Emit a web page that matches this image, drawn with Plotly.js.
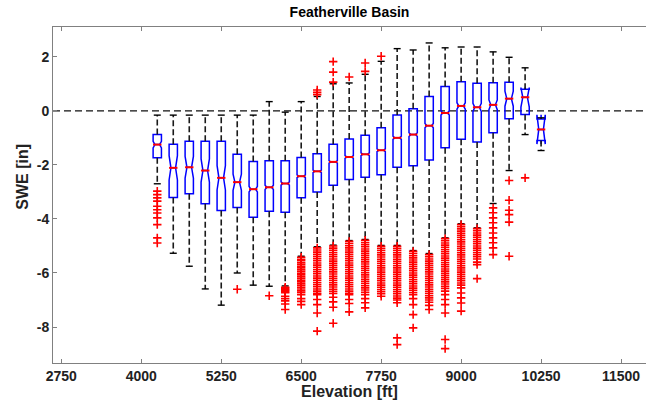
<!DOCTYPE html>
<html><head><meta charset="utf-8">
<script src="https://cdn.plot.ly/plotly-3.0.1.min.js"></script>
<style>html,body{margin:0;padding:0;background:#fff}#chart{width:646px;height:400px}</style>
</head><body><div id="chart"></div>
<script>
const elevation = [4250,4500,4750,5000,5250,5500,5750,6000,6250,6500,6750,7000,7250,7500,7750,8000,8250,8500,8750,9000,9250,9500,9750,10000,10250];
const q3      = [-0.88,-1.24,-1.13,-1.13,-1.13,-1.61,-1.88,-1.85,-1.85,-1.73,-1.59,-1.24,-1.04,-0.90,-0.63,-0.16,0.08,0.53,0.90,1.07,1.02,1.04,1.06,0.80,-0.30];
const median  = [-1.25,-2.11,-2.09,-2.21,-2.48,-2.64,-2.90,-2.83,-2.69,-2.42,-2.24,-1.89,-1.71,-1.61,-1.46,-1.00,-0.88,-0.55,-0.08,0.18,0.13,0.22,0.45,0.50,-0.69];
const q1      = [-1.74,-3.21,-3.07,-3.44,-3.69,-3.58,-3.94,-3.72,-3.75,-3.22,-3.00,-2.75,-2.54,-2.46,-2.37,-2.09,-2.03,-1.82,-1.37,-1.05,-1.15,-0.81,-0.29,-0.14,-1.10];
const notchHalf = [0.12,0.45,0.40,0.43,0.45,0.30,0.10,0.08,0.06,0.05,0.05,0.05,0.05,0.05,0.05,0.06,0.07,0.08,0.08,0.12,0.15,0.18,0.28,0.36,0.54];
const whiskerLow  = [-2.70,-5.27,-5.75,-6.59,-7.19,-6.00,-6.45,-6.49,-6.48,-5.38,-5.03,-4.97,-4.80,-4.76,-4.98,-4.98,-5.17,-5.28,-4.70,-4.18,-4.33,-3.43,-2.21,-0.88,-1.47];
const whiskerHigh = [-0.16,-0.16,-0.16,-0.16,-0.16,-0.16,-0.16,0.34,-0.05,0.34,0.53,1.00,1.03,1.35,1.83,2.30,2.25,2.51,2.33,2.36,2.36,2.18,1.98,1.59,-0.26];
const outliers = [
  [-2.97,-3.1,-3.22,-3.34,-3.53,-3.66,-3.78,-3.96,-4.21,-4.7,-4.89],
  [], [], [], [],
  [-6.6],
  [],
  [-6.84],
  [-6.53,-6.57,-6.61,-6.65,-6.69,-6.73,-6.86,-6.95,-7.03,-7.15,-7.35],
  [-5.42,-5.49,-5.55,-5.62,-5.68,-5.75,-5.81,-5.88,-5.94,-6.01,-6.07,-6.14,-6.2,-6.27,-6.33,-6.4,-6.46,-6.53,-6.59,-6.66,-6.72,-6.8,-6.95,-7.05,-7.17],
  [0.6,0.68,0.77,-5.07,-5.15,-5.23,-5.31,-5.39,-5.47,-5.55,-5.63,-5.71,-5.79,-5.87,-5.95,-6.03,-6.11,-6.19,-6.27,-6.35,-6.43,-6.51,-6.59,-6.67,-6.75,-6.8,-6.98,-7.17,-7.48,-8.15],
  [1.06,1.43,1.82,-5.0,-5.08,-5.16,-5.24,-5.32,-5.4,-5.48,-5.56,-5.64,-5.72,-5.8,-5.88,-5.96,-6.04,-6.12,-6.2,-6.28,-6.36,-6.44,-6.52,-6.6,-6.68,-6.76,-6.9,-7.07,-7.27,-7.86],
  [1.25,-4.83,-4.91,-4.99,-5.07,-5.15,-5.23,-5.31,-5.39,-5.47,-5.55,-5.63,-5.71,-5.79,-5.87,-5.95,-6.03,-6.11,-6.19,-6.27,-6.35,-6.43,-6.51,-6.59,-6.67,-6.75,-6.8,-6.98,-7.13,-7.44],
  [1.46,1.77,-4.79,-4.87,-4.95,-5.03,-5.11,-5.19,-5.27,-5.35,-5.43,-5.51,-5.59,-5.67,-5.75,-5.83,-5.91,-5.99,-6.07,-6.15,-6.23,-6.31,-6.39,-6.47,-6.55,-6.63,-6.71,-6.8,-6.95,-7.1,-7.29],
  [2.02,-5.01,-5.09,-5.17,-5.25,-5.33,-5.41,-5.49,-5.57,-5.65,-5.73,-5.81,-5.89,-5.97,-6.05,-6.13,-6.21,-6.29,-6.37,-6.45,-6.53,-6.61,-6.69,-6.77,-6.86],
  [-5.01,-5.09,-5.17,-5.25,-5.33,-5.41,-5.49,-5.57,-5.65,-5.73,-5.81,-5.89,-5.97,-6.05,-6.13,-6.21,-6.29,-6.37,-6.45,-6.53,-6.61,-6.69,-6.77,-6.85,-6.93,-7.0,-7.1,-8.4,-8.65],
  [-5.2,-5.28,-5.36,-5.44,-5.52,-5.6,-5.68,-5.76,-5.84,-5.92,-6.0,-6.08,-6.16,-6.24,-6.32,-6.4,-6.48,-6.56,-6.64,-6.72,-6.8,-6.95,-7.17,-7.54,-8.03],
  [-5.32,-5.4,-5.48,-5.56,-5.64,-5.72,-5.8,-5.88,-5.96,-6.04,-6.12,-6.2,-6.28,-6.36,-6.44,-6.52,-6.6,-6.68,-6.76,-6.84,-6.92,-7.0,-7.08,-7.2,-7.35],
  [-4.73,-4.81,-4.89,-4.97,-5.05,-5.13,-5.21,-5.29,-5.37,-5.45,-5.53,-5.61,-5.69,-5.77,-5.85,-5.93,-6.01,-6.09,-6.17,-6.25,-6.33,-6.41,-6.49,-6.57,-6.67,-6.8,-6.98,-7.17,-7.48,-8.46,-8.8],
  [-4.21,-4.29,-4.37,-4.45,-4.53,-4.61,-4.69,-4.77,-4.85,-4.93,-5.01,-5.09,-5.17,-5.25,-5.33,-5.41,-5.49,-5.57,-5.65,-5.73,-5.81,-5.89,-5.97,-6.05,-6.13,-6.21,-6.29,-6.37,-6.45,-6.55,-6.74,-6.92,-7.11,-7.41],
  [-4.36,-4.44,-4.52,-4.6,-4.68,-4.76,-4.84,-4.92,-5.0,-5.08,-5.16,-5.24,-5.32,-5.4,-5.48,-5.6,-5.69,-6.21],
  [-3.59,-3.77,-3.96,-4.14,-4.33,-4.52,-4.7,-4.88,-5.07,-5.32],
  [-2.58,-3.31,-3.68,-3.84,-4.12,-5.38],
  [-2.48],
  []
];
const xTicks = [2750,4000,5250,6500,7750,9000,10250,11500];
const yTicks = [2,0,-2,-4,-6,-8];

const FONT = 'Liberation Sans, Arial, Helvetica, sans-serif';

const wx = [], wy = [];
elevation.forEach((e,i)=>{
  wx.push(e,e,null,e,e,null);
  wy.push(q3[i],whiskerHigh[i],null,q1[i],whiskerLow[i],null);
});
const capX = elevation.concat(elevation);
const capY = whiskerHigh.concat(whiskerLow);
const ox = [], oy = [];
outliers.forEach((arr,i)=>arr.forEach(v=>{ox.push(elevation[i]); oy.push(v);}));

const traces = [
  {type:'scatter', mode:'lines', x:wx, y:wy, line:{color:'#1a1a1a', width:1.6, dash:'6px,3px'}, hoverinfo:'skip', showlegend:false},
  {type:'box', x:elevation, q1:q1, median:median, q3:q3, lowerfence:q1, upperfence:q3,
   notched:true, notchspan:notchHalf, notchwidth:0.22, width:130, whiskerwidth:0,
   line:{color:'#0000ff', width:1.5}, fillcolor:'rgba(0,0,0,0)', boxpoints:false, hoverinfo:'skip', showlegend:false},
  {type:'scatter', mode:'markers', x:capX, y:capY, marker:{symbol:'line-ew', size:5, line:{color:'#000', width:1.4}}, hoverinfo:'skip', showlegend:false},
  {type:'scatter', mode:'markers', x:elevation, y:median, marker:{symbol:'line-ew', size:6, line:{color:'#ff0000', width:2}}, hoverinfo:'skip', showlegend:false},
  {type:'scatter', mode:'markers', x:ox, y:oy, marker:{symbol:'cross-thin', size:6, line:{color:'#ff0000', width:1.6}}, hoverinfo:'skip', showlegend:false}
];

const layout = {
  width:646, height:400,
  margin:{l:53, r:0, t:27, b:37},
  paper_bgcolor:'#fff', plot_bgcolor:'#fff',
  showlegend:false,
  title:{text:'<b>Featherville Basin</b>', font:{family:FONT, size:14, color:'#000'}, x:0.5, xref:'paper', xanchor:'center', y:0.97, yref:'container', yanchor:'middle'},
  xaxis:{range:[2620,11890], tickmode:'array', tickvals:xTicks, ticktext:xTicks.map(String),
    ticks:'inside', ticklen:4, tickcolor:'#808080', showline:true, linecolor:'#808080', linewidth:1, mirror:'ticks',
    showgrid:false, zeroline:false, tickfont:{family:FONT, size:14, color:'#222', weight:'bold'},
    title:{text:'Elevation [ft]', font:{family:FONT, size:16, color:'#222', weight:'bold'}, standoff:1}},
  yaxis:{range:[-9.33,3.1], tickmode:'array', tickvals:yTicks, ticktext:yTicks.map(String),
    ticks:'inside', ticklen:4, tickcolor:'#808080', showline:true, linecolor:'#808080', linewidth:1, mirror:false,
    showgrid:false, zeroline:false, tickfont:{family:FONT, size:14, color:'#222', weight:'bold'}},
  annotations:[{text:'SWE [in]', textangle:-90, xref:'paper', yref:'paper', x:-0.052, y:0.555, xanchor:'center', yanchor:'middle', showarrow:false,
    font:{family:FONT, size:16, color:'#222', weight:'bold'}}],
  shapes:[{type:'line', xref:'paper', x0:0, x1:1, yref:'y', y0:0, y1:0, layer:'below', line:{color:'#111', width:1.3, dash:'7px,4px'}}]
};
Plotly.newPlot('chart', traces, layout, {displayModeBar:false, staticPlot:true});
</script></body></html>
